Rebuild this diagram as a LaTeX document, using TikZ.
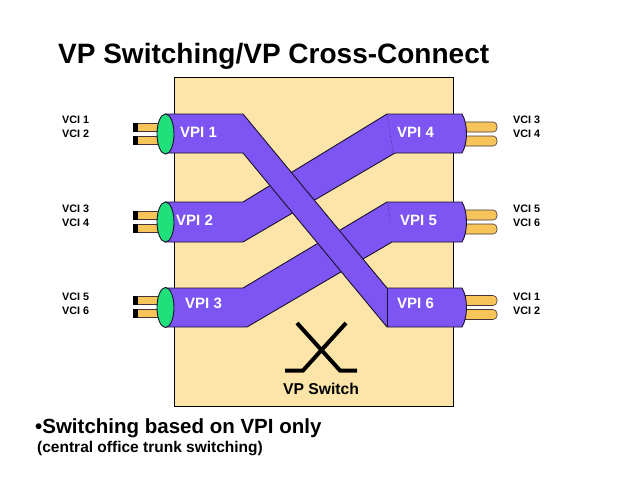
\documentclass[tikz,border=0pt]{standalone}
\usepackage{fontspec}
\setmainfont{Liberation Sans}
\definecolor{boxfill}{HTML}{FDE5A9}
\definecolor{tubec}{HTML}{7D55F2}
\definecolor{capgreen}{HTML}{1FE07A}
\definecolor{wirec}{HTML}{F7C45A}
\definecolor{edgec}{HTML}{1A1030}
\tikzset{
  tubestyle/.style={fill=tubec, draw=edgec, line width=0.9pt, line join=round},
  wirestyle/.style={fill=wirec, draw=edgec!80!wirec, line width=0.6pt},
  capstyle/.style={fill=capgreen, draw=edgec, line width=0.9pt},
  joinline/.style={draw=edgec, line width=0.5pt, dotted},
  vcilabel/.style={anchor=west, inner sep=0pt, font=\bfseries\fontsize{10.8}{12}\selectfont},
  vpilabel/.style={anchor=west, inner sep=0pt, text=white, font=\bfseries\fontsize{15}{17}\selectfont}
}
\begin{document}
\begin{tikzpicture}[x=1pt,y=-1pt]
\useasboundingbox (0,0) rectangle (640,480);
\fill[white] (0,0) rectangle (640,480);
% switch box
\draw[fill=boxfill, draw=black, line width=0.8pt] (174,77) rectangle (453,406);
% right wires (behind tubes)
\foreach \c in {134,222,307.5} {
  \draw[wirestyle, rounded corners=4pt] (455,{\c-12}) rectangle (497,{\c-2});
  \draw[wirestyle, rounded corners=4pt] (455,{\c+2}) rectangle (497,{\c+12});
}
% left wires
\foreach \c in {134,222,307.5} {
  \draw[wirestyle] (134,{\c-11}) rectangle (168,{\c-3});
  \fill[black] (133,{\c-11.5}) rectangle (137.5,{\c-2.5});
  \draw[wirestyle] (134,{\c+2}) rectangle (168,{\c+10});
  \fill[black] (133,{\c+1.5}) rectangle (137.5,{\c+10.5});
}
% VPI2 -> VPI4
\draw[tubestyle] (165,202) -- (243,202) -- (387,114) -- (462,114)
  .. controls (468,124) and (468,143) .. (462,153) -- (395,153) -- (243,242) -- (165,242) -- cycle;
\draw[joinline] (387,114) -- (393,152);
% VPI3 -> VPI5
\draw[tubestyle] (165,288) -- (243,288) -- (387,202) -- (462,202)
  .. controls (468,212) and (468,232) .. (462,242) -- (392,242) -- (247,327) -- (165,327) -- cycle;
\draw[joinline] (388,203) -- (390,222);
% VPI1 -> VPI6
\draw[tubestyle] (165,114) -- (243,114) -- (387,288) -- (462,288)
  .. controls (468,298) and (468,317) .. (462,327) -- (387,327) -- (243,153) -- (165,153) -- cycle;
\draw[draw=edgec, line width=0.9pt] (387,288) -- (387,327);
% green end caps
\foreach \c in {134,222,307.5} {
  \draw[capstyle] (165.5,\c) ellipse [x radius=8.5pt, y radius=20pt];
}
% VP switch symbol
\draw[line width=4pt, line join=miter] (297,323) -- (340,370.5) -- (357,370.5);
\draw[line width=4pt, line join=miter] (346,323) -- (303,370.5) -- (285,370.5);
\node[inner sep=0pt, font=\bfseries\fontsize{15.7}{18}\selectfont] (sw) at (321,389) {VP Switch};
% VPI labels
\node[vpilabel] (vpi1) at (180,132.5) {VPI 1};
\node[vpilabel] (vpi2) at (176,220.7) {VPI 2};
\node[vpilabel] (vpi3) at (185,303) {VPI 3};
\node[vpilabel] (vpi4) at (397,132) {VPI 4};
\node[vpilabel] (vpi5) at (400,220.7) {VPI 5};
\node[vpilabel] (vpi6) at (397,303) {VPI 6};
% VCI labels left
\node[vcilabel] (l1) at (62,120) {VCI 1};
\node[vcilabel] (l2) at (62,133.5) {VCI 2};
\node[vcilabel] (l3) at (62,208.3) {VCI 3};
\node[vcilabel] (l4) at (62,222.7) {VCI 4};
\node[vcilabel] (l5) at (62,296.7) {VCI 5};
\node[vcilabel] (l6) at (62,310.7) {VCI 6};
% VCI labels right
\node[vcilabel] (r3) at (513,120) {VCI 3};
\node[vcilabel] (r4) at (513,133.5) {VCI 4};
\node[vcilabel] (r5) at (513,208.3) {VCI 5};
\node[vcilabel] (r6) at (513,222.7) {VCI 6};
\node[vcilabel] (r1) at (513,296.7) {VCI 1};
\node[vcilabel] (r2) at (513,310.7) {VCI 2};
% title and notes
\node[anchor=base west, inner sep=0pt, font=\bfseries\fontsize{28}{32}\selectfont] (title) at (58,63) {VP Switching/VP Cross-Connect};
\node[anchor=base west, inner sep=0pt, font=\bfseries\fontsize{20.5}{24}\selectfont] (note) at (35,433) {•Switching based on VPI only};
\node[anchor=base west, inner sep=0pt, font=\bfseries\fontsize{15.5}{18}\selectfont] (sub) at (37,452) {(central office trunk switching)};
\end{tikzpicture}
\end{document}
